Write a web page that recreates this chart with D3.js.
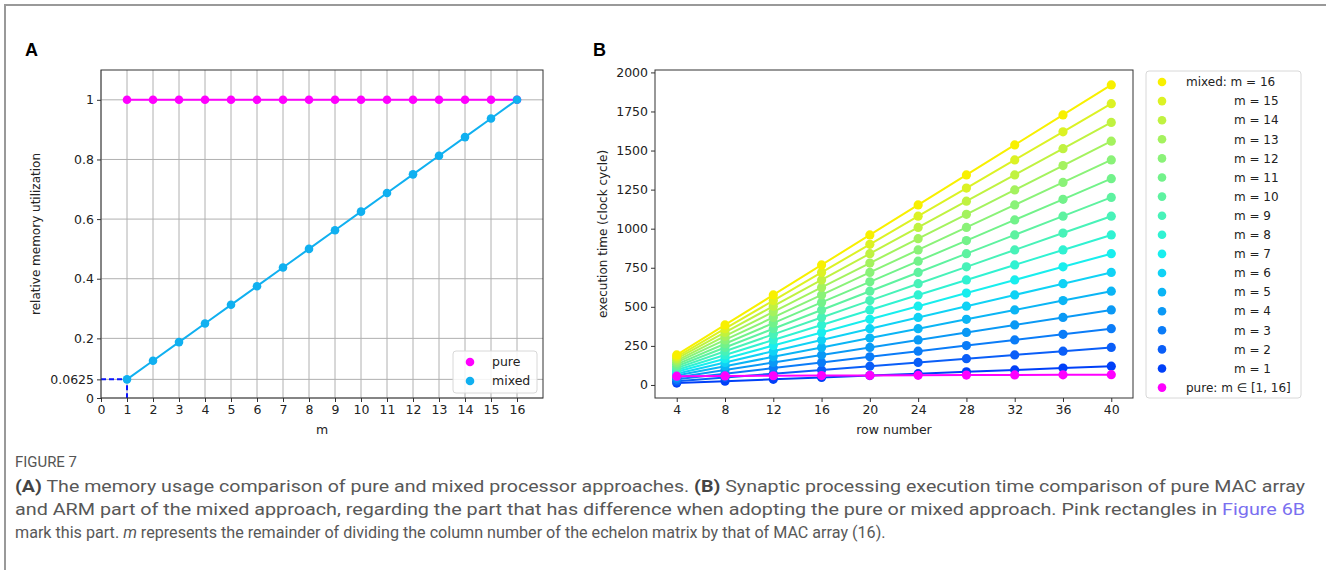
<!DOCTYPE html>
<html>
<head>
<meta charset="utf-8">
<script src="https://cdn.jsdelivr.net/npm/d3@7"></script>
<style>
  body { margin: 0; background: #fff; }
  svg { display: block; }
</style>
</head>
<body>
<div id="fig"></div>
<script>
// Figure 7: (A) relative memory utilization, (B) execution time vs row number

// ---- data ----
// Panel A
const mValues = [1, 2, 3, 4, 5, 6, 7, 8, 9, 10, 11, 12, 13, 14, 15, 16];
const pureUtil = [1, 1, 1, 1, 1, 1, 1, 1, 1, 1, 1, 1, 1, 1, 1, 1];
const mixedUtil = [0.0625, 0.125, 0.1875, 0.25, 0.3125, 0.375, 0.4375, 0.5,
                   0.5625, 0.625, 0.6875, 0.75, 0.8125, 0.875, 0.9375, 1];
const aTicksX = [0, 1, 2, 3, 4, 5, 6, 7, 8, 9, 10, 11, 12, 13, 14, 15, 16];
const aTicksY = [0, 0.0625, 0.2, 0.4, 0.6, 0.8, 1];

// Panel B
const rowNumbers = [4, 8, 12, 16, 20, 24, 28, 32, 36, 40];
const mixedTime = [
  [12, 24, 36, 48, 60, 72, 84, 96, 108, 120],          // m = 1
  [24, 48, 72, 96, 120, 144, 168, 192, 216, 240],      // m = 2
  [36, 72, 108, 144, 180, 216, 252, 288, 324, 360],    // m = 3
  [48, 96, 144, 192, 240, 288, 336, 384, 432, 480],    // m = 4
  [60, 120, 180, 240, 300, 360, 420, 480, 540, 600],   // m = 5
  [72, 144, 216, 288, 360, 432, 504, 576, 648, 720],   // m = 6
  [84, 168, 252, 336, 420, 504, 588, 672, 756, 840],   // m = 7
  [96, 192, 288, 384, 480, 576, 672, 768, 864, 960],   // m = 8
  [108, 216, 324, 432, 540, 648, 756, 864, 972, 1080], // m = 9
  [120, 240, 360, 480, 600, 720, 840, 960, 1080, 1200],// m = 10
  [132, 264, 396, 528, 660, 792, 924, 1056, 1188, 1320],// m = 11
  [144, 288, 432, 576, 720, 864, 1008, 1152, 1296, 1440],// m = 12
  [156, 312, 468, 624, 780, 936, 1092, 1248, 1404, 1560],// m = 13
  [168, 336, 504, 672, 840, 1008, 1176, 1344, 1512, 1680],// m = 14
  [180, 360, 540, 720, 900, 1080, 1260, 1440, 1620, 1800],// m = 15
  [192, 384, 576, 768, 960, 1152, 1344, 1536, 1728, 1920] // m = 16
];
const pureTime = [56, 58, 59, 60, 61, 62, 63, 64, 65, 66];
const bTicksX = [4, 8, 12, 16, 20, 24, 28, 32, 36, 40];
const bTicksY = [0, 250, 500, 750, 1000, 1250, 1500, 1750, 2000];

// colours for m = 1 .. 16 (blue -> yellow)
const mColours = ["#0040f8", "#0a5ef8", "#0a7cf8", "#0a99f5", "#0ab5f5", "#10d2f5",
                  "#18eeee", "#30f2d2", "#48f2b8", "#5ef2a0", "#72f28a", "#8af278",
                  "#a4f25e", "#c0f240", "#dcf224", "#f8f000"];
const pink = "#ff00ff";
const mixedBlue = "#10b0f0";

const W = 1326, H = 570;
const tickFont = "DejaVu Sans, sans-serif";

let svg = d3.select("#fig").append("svg")
    .attr("width", W).attr("height", H);
svg.append("rect").attr("width", W).attr("height", H).attr("fill", "#fff");

// page frame (top and left rule)
svg.append("line").attr("x1", 4).attr("x2", W).attr("y1", 5).attr("y2", 5)
    .attr("stroke", "#999").attr("stroke-width", 2);
svg.append("line").attr("x1", 5).attr("x2", 5).attr("y1", 5).attr("y2", H)
    .attr("stroke", "#999").attr("stroke-width", 2);

// style an axis group the matplotlib way
function styleAxis(g) {
    g.select(".domain").remove();
    g.selectAll(".tick line").attr("stroke", "#333");
    g.selectAll(".tick text").attr("fill", "#222")
        .style("font-family", tickFont).style("font-size", "12.5px");
}

// ================= Panel A =================
let aBox = { left: 101, right: 543, top: 70, bottom: 398 };
let xA = d3.scaleLinear().domain([0, 17]).range([aBox.left, aBox.right]);
let yA = d3.scaleLinear().domain([0, 1.1]).range([aBox.bottom, aBox.top]);

svg.append("text").text("A")
    .attr("x", 25).attr("y", 56)
    .style("font-family", "Liberation Sans, Arial, sans-serif")
    .style("font-weight", "bold").style("font-size", "18px");

// grid
let gA = svg.append("g");
gA.selectAll(".vg").data(aTicksX).enter().append("line")
    .attr("x1", d => xA(d)).attr("x2", d => xA(d))
    .attr("y1", aBox.top).attr("y2", aBox.bottom)
    .attr("stroke", "#b0b0b0").attr("stroke-width", 1);
gA.selectAll(".hg").data(aTicksY).enter().append("line")
    .attr("x1", aBox.left).attr("x2", aBox.right)
    .attr("y1", d => yA(d)).attr("y2", d => yA(d))
    .attr("stroke", "#b0b0b0").attr("stroke-width", 1);

// axes
svg.append("g")
    .attr("transform", "translate(0," + aBox.bottom + ")")
    .call(d3.axisBottom(xA).tickValues(aTicksX).tickSize(4).tickPadding(3))
    .call(styleAxis);
svg.append("g")
    .attr("transform", "translate(" + aBox.left + ",0)")
    .call(d3.axisLeft(yA).tickValues(aTicksY).tickSize(4).tickPadding(3)
        .tickFormat(d => String(d)))
    .call(styleAxis);

// dashed guide at m = 1, 0.0625
let guide = [[0, mixedUtil[0]], [mValues[0], mixedUtil[0]], [mValues[0], 0]];
svg.append("path")
    .datum(guide)
    .attr("fill", "none").attr("stroke", "#0a14ff").attr("stroke-width", 2)
    .attr("stroke-dasharray", "5,3")
    .attr("d", d3.line().x(d => xA(d[0])).y(d => yA(d[1])));

// series: pure then mixed
let aSeries = [[pureUtil, pink], [mixedUtil, mixedBlue]];
aSeries.forEach(function(s) {
    svg.append("path")
        .datum(s[0])
        .attr("fill", "none").attr("stroke", s[1]).attr("stroke-width", 2)
        .attr("d", d3.line().x((d, i) => xA(mValues[i])).y(d => yA(d)));
    svg.append("g").selectAll("circle").data(s[0]).enter().append("circle")
        .attr("cx", (d, i) => xA(mValues[i])).attr("cy", d => yA(d))
        .attr("r", 4.3).attr("fill", s[1]);
});

// frame
svg.append("rect")
    .attr("x", aBox.left).attr("y", aBox.top)
    .attr("width", aBox.right - aBox.left).attr("height", aBox.bottom - aBox.top)
    .attr("fill", "none").attr("stroke", "#333").attr("stroke-width", 1);

// axis labels
svg.append("text").text("m")
    .attr("x", (aBox.left + aBox.right) / 2).attr("y", 434)
    .attr("text-anchor", "middle")
    .style("font-family", tickFont).style("font-size", "12.5px").attr("fill", "#222");
svg.append("text").text("relative memory utilization")
    .attr("transform", "translate(40," + ((aBox.top + aBox.bottom) / 2) + ") rotate(-90)")
    .attr("text-anchor", "middle")
    .style("font-family", tickFont).style("font-size", "12px").attr("fill", "#222");

// legend A
let lgA = svg.append("g");
lgA.append("rect")
    .attr("x", 453).attr("y", 351).attr("width", 84).attr("height", 42).attr("rx", 3)
    .attr("fill", "#fff").attr("fill-opacity", 0.85)
    .attr("stroke", "#d8d8d8");
[["pure", pink], ["mixed", mixedBlue]].forEach(function(e, i) {
    lgA.append("circle").attr("cx", 470).attr("cy", 362 + i * 19)
        .attr("r", 4.3).attr("fill", e[1]);
    lgA.append("text").text(e[0])
        .attr("x", 492).attr("y", 362 + i * 19).attr("dy", "0.35em")
        .style("font-family", tickFont).style("font-size", "12.5px").attr("fill", "#222");
});

// ================= Panel B =================
let bBox = { left: 655, right: 1133, top: 70, bottom: 398 };
let xB = d3.scaleLinear().domain([2.2, 41.8]).range([bBox.left, bBox.right]);
let yB = d3.scaleLinear().domain([-83.4, 2015.4]).range([bBox.bottom, bBox.top]);

svg.append("text").text("B")
    .attr("x", 593).attr("y", 56)
    .style("font-family", "Liberation Sans, Arial, sans-serif")
    .style("font-weight", "bold").style("font-size", "18px");

svg.append("g")
    .attr("transform", "translate(0," + bBox.bottom + ")")
    .call(d3.axisBottom(xB).tickValues(bTicksX).tickSize(4).tickPadding(3))
    .call(styleAxis);
svg.append("g")
    .attr("transform", "translate(" + bBox.left + ",0)")
    .call(d3.axisLeft(yB).tickValues(bTicksY).tickSize(4).tickPadding(3)
        .tickFormat(d3.format("d")))
    .call(styleAxis);

let lineB = d3.line().x((d, i) => xB(rowNumbers[i])).y(d => yB(d));
mixedTime.forEach(function(vals, k) {
    svg.append("path").datum(vals)
        .attr("fill", "none").attr("stroke", mColours[k]).attr("stroke-width", 2)
        .attr("d", lineB);
    svg.append("g").selectAll("circle").data(vals).enter().append("circle")
        .attr("cx", (d, i) => xB(rowNumbers[i])).attr("cy", d => yB(d))
        .attr("r", 4.6).attr("fill", mColours[k]);
});
svg.append("path").datum(pureTime)
    .attr("fill", "none").attr("stroke", pink).attr("stroke-width", 2)
    .attr("d", lineB);
svg.append("g").selectAll("circle").data(pureTime).enter().append("circle")
    .attr("cx", (d, i) => xB(rowNumbers[i])).attr("cy", d => yB(d))
    .attr("r", 4.6).attr("fill", pink);

svg.append("rect")
    .attr("x", bBox.left).attr("y", bBox.top)
    .attr("width", bBox.right - bBox.left).attr("height", bBox.bottom - bBox.top)
    .attr("fill", "none").attr("stroke", "#333").attr("stroke-width", 1);

svg.append("text").text("row number")
    .attr("x", (bBox.left + bBox.right) / 2).attr("y", 434)
    .attr("text-anchor", "middle")
    .style("font-family", tickFont).style("font-size", "12.5px").attr("fill", "#222");
svg.append("text").text("execution time (clock cycle)")
    .attr("transform", "translate(607," + ((bBox.top + bBox.bottom) / 2) + ") rotate(-90)")
    .attr("text-anchor", "middle")
    .style("font-family", tickFont).style("font-size", "12px").attr("fill", "#222");

// legend B: m = 16 at top, down to m = 1, then pure
let lgB = svg.append("g");
lgB.append("rect")
    .attr("x", 1146).attr("y", 71).attr("width", 155).attr("height", 327).attr("rx", 3)
    .attr("fill", "#fff").attr("stroke", "#d8d8d8");
for (let j = 0; j < 17; j++) {
    let yy = 82 + j * 19.1;
    let k = 15 - j;
    let col = j < 16 ? mColours[k] : pink;
    lgB.append("circle").attr("cx", 1162).attr("cy", yy).attr("r", 4.3).attr("fill", col);
    let t = lgB.append("text")
        .attr("y", yy).attr("dy", "0.35em")
        .style("font-family", tickFont).style("font-size", "12px").attr("fill", "#222");
    if (j === 0) {
        t.attr("x", 1186).text("mixed: m = " + mValues[k]);
    } else if (j < 16) {
        t.attr("x", 1234).text("m = " + mValues[k]);
    } else {
        t.attr("x", 1186).text("pure: m \u2208 [1, 16]");
    }
}

// ================= caption =================
// condensed look: draw at natural width, then squeeze horizontally to the target width
const capFont = "Roboto, Noto Sans, sans-serif";
function squeeze(t, x, y, len) {
    let natural = t.node().getComputedTextLength();
    t.attr("transform", "translate(" + x + "," + y + ") scale(" + (len / natural) + ",1)");
}

let fig = svg.append("text").text("FIGURE 7")
    .attr("x", 0).attr("y", 0)
    .style("font-family", capFont).style("font-size", "14px").attr("fill", "#555");
squeeze(fig, 15, 467, 62);

let capLines = [
    { y: 492, len: 1291, parts: [["(A)", "b"], [" The memory usage comparison of pure and mixed processor approaches. ", ""],
        ["(B)", "b"], [" Synaptic processing execution time comparison of pure MAC array", ""]] },
    { y: 515, len: 1291, parts: [["and ARM part of the mixed approach, regarding the part that has difference when adopting the pure or mixed approach. Pink rectangles in ", ""],
        ["Figure 6B", "link"]] },
    { y: 538, len: 871, parts: [["mark this part. ", ""], ["m", "i"],
        [" represents the remainder of dividing the column number of the echelon matrix by that of MAC array (16).", ""]] }
];
capLines.forEach(function(ln) {
    let t = svg.append("text")
        .attr("x", 0).attr("y", 0)
        .style("font-family", capFont).style("font-size", "17px").attr("fill", "#585858");
    ln.parts.forEach(function(p) {
        let ts = t.append("tspan").text(p[0]);
        if (p[1] === "b") ts.style("font-weight", "bold").attr("fill", "#444");
        if (p[1] === "i") ts.style("font-style", "italic");
        if (p[1] === "link") ts.attr("fill", "#7a6ff0");
    });
    squeeze(t, 15, ln.y, ln.len);
});
</script>
</body>
</html>
